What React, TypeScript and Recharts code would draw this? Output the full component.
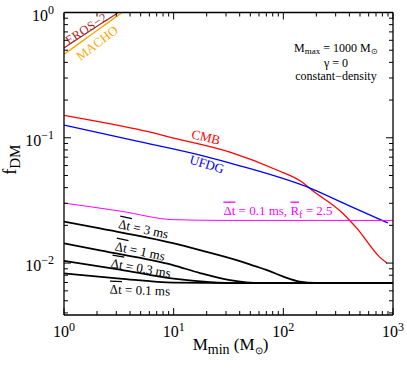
import { LineChart, Line, XAxis, YAxis, ReferenceDot } from "recharts";

const FONT = '"Liberation Serif", "Times New Roman", Times, serif';
const serif = { fontFamily: FONT };

// M_min (solar masses) and f_DM
const cmbM = [1, 2.13, 4.63, 10, 32.6, 87.4, 148, 182, 346, 469, 760, 880];
const cmbF = [0.151, 0.134, 0.117, 0.0995, 0.0769, 0.0553, 0.0443, 0.0383, 0.0251, 0.0189, 0.0111, 0.01];

const ufdgM = [1, 4.63, 17.4, 40.2, 175, 405, 898];
const ufdgF = [0.1264, 0.0942, 0.0728, 0.0598, 0.0397, 0.0285, 0.0209];

const rfM = [1, 3.24, 10, 30, 1000];
const rfF = [0.0301, 0.026, 0.0222, 0.0219, 0.0219];

const dt3M = [1, 2.13, 9.85, 17.4, 40.2, 55, 71, 100, 141, 200, 1000];
const dt3F = [0.0214, 0.0189, 0.01444, 0.0127, 0.01037, 0.00946, 0.00879, 0.0078, 0.00712, 0.00695, 0.00692];

const dt1M = [1, 2.13, 9.85, 17.4, 32.6, 61, 1000];
const dt1F = [0.01436, 0.0126, 0.00964, 0.00832, 0.00731, 0.00692, 0.00692];

const dt03M = [1, 3.24, 10, 21.4, 40, 1000];
const dt03F = [0.0104, 0.00887, 0.0075, 0.00705, 0.00692, 0.00692];

const dt01M = [1, 3.24, 10, 40, 1000];
const dt01F = [0.00827, 0.00752, 0.00699, 0.00692, 0.00692];

const erosM = [1, 2, 3.11, 3.3];
const erosF = [0.521, 0.776, 1.0, 1.04];

const machoM = [1, 1.5, 2, 3.38, 3.6];
const machoF = [0.464, 0.599, 0.718, 1.0, 1.04];

const xTicks = [1, 2, 3, 4, 5, 6, 7, 8, 9, 10, 20, 30, 40, 50, 60, 70, 80, 90, 100, 200, 300, 400, 500, 600, 700, 800, 900, 1000];
const yTicks = [0.004, 0.005, 0.006, 0.007, 0.008, 0.009, 0.01, 0.02, 0.03, 0.04, 0.05, 0.06, 0.07, 0.08, 0.09, 0.1, 0.2, 0.3, 0.4, 0.5, 0.6, 0.7, 0.8, 0.9, 1];

const pts = (xs: number[], ys: number[]) => xs.map((x, i) => ({ x, y: ys[i] }));

const isMajor = (v: number) => Math.abs(Math.log10(v) - Math.round(Math.log10(v))) < 1e-6;
const expLabel = (v: number) => {
  const e = Math.round(Math.log10(v));
  return e < 0 ? "\u2212" + -e : String(e);
};

function TickBottom({ x, y, payload }: any) {
  const major = isMajor(payload.value);
  return (
    <g>
      <line x1={x} x2={x} y1={y} y2={y - (major ? 7 : 4)} stroke="#000" />
      {major && (
        <text x={x} y={y + 22} textAnchor="middle" style={serif} fontSize={16} fill="#000">
          10<tspan dy={-6} fontSize={12}>{expLabel(payload.value)}</tspan>
        </text>
      )}
    </g>
  );
}

function TickTop({ x, y, payload }: any) {
  const major = isMajor(payload.value);
  return <line x1={x} x2={x} y1={y} y2={y + (major ? 7 : 4)} stroke="#000" />;
}

function TickLeft({ x, y, payload }: any) {
  const major = isMajor(payload.value);
  return (
    <g>
      <line x1={x} x2={x + (major ? 7 : 4)} y1={y} y2={y} stroke="#000" />
      {major && (
        <text x={x - 10} y={y + 8} textAnchor="end" style={serif} fontSize={16} fill="#000">
          10<tspan dy={-7} fontSize={12}>{expLabel(payload.value)}</tspan>
        </text>
      )}
    </g>
  );
}

function TickRight({ x, y, payload }: any) {
  const major = isMajor(payload.value);
  return <line x1={x} x2={x - (major ? 7 : 4)} y1={y} y2={y} stroke="#000" />;
}

type CurveLabel = { x: number; y: number; angle: number; color: string; kind: string; text: string; size?: number; spacing?: number };

const curveLabels: CurveLabel[] = [
  { x: 1.587, y: 0.745, angle: -33, color: "#a52a2a", kind: "plain", text: "EROS\u22122", size: 12.5, spacing: 0.3 },
  { x: 2.0, y: 0.571, angle: -37, color: "#ffa500", kind: "plain", text: "MACHO" },
  { x: 19.7, y: 0.1014, angle: 14, color: "#ff0000", kind: "plain", text: "CMB" },
  { x: 20.1, y: 0.0617, angle: 17, color: "#0000ff", kind: "plain", text: "UFDG" },
  { x: 89.3, y: 0.0265, angle: 0, color: "#ff00ff", kind: "rf", text: "0.1" },
  { x: 5.3, y: 0.0187, angle: 12, color: "#000", kind: "dt", text: "3" },
  { x: 4.93, y: 0.01247, angle: 12, color: "#000", kind: "dt", text: "1" },
  { x: 5.03, y: 0.00912, angle: 10, color: "#000", kind: "dt", text: "0.3" },
  { x: 4.93, y: 0.00609, angle: 2, color: "#000", kind: "dt", text: "0.1" },
];

const OL = { textDecoration: "overline" } as const;

function labelShape(l: CurveLabel) {
  return (p: any) => {
    const { cx, cy } = p;
    let body: any = l.text;
    if (l.kind === "dt") {
      body = (
        <>
          <tspan style={OL}>{"\u0394t"}</tspan>
          {" = " + l.text + " ms"}
        </>
      );
    } else if (l.kind === "rf") {
      body = (
        <>
          <tspan style={OL}>{"\u0394t"}</tspan>
          {" = " + l.text + " ms, "}
          <tspan style={OL}>R</tspan>
          <tspan dy={3} fontSize={10}>f</tspan>
          <tspan dy={-3}>{" = 2.5"}</tspan>
        </>
      );
    }
    return (
      <text
        x={cx}
        y={cy}
        dy={4.5}
        textAnchor="middle"
        style={{ ...serif, letterSpacing: l.spacing ?? 0 }}
        fontSize={l.size ?? 13}
        fill={l.color}
        transform={`rotate(${l.angle}, ${cx}, ${cy})`}
      >
        {body}
      </text>
    );
  };
}

function InfoBox({ cx, cy }: any) {
  return (
    <g style={serif} fontSize={12} fill="#000">
      <text x={cx} y={cy} textAnchor="middle">
        M<tspan dy={1.5} fontSize={9}>max</tspan>
        <tspan dy={-1.5}>{" = 1000 M"}</tspan>
        <tspan dy={1.5} fontSize={8}>{"\u2299"}</tspan>
      </text>
      <text x={cx} y={cy + 14.5} textAnchor="middle">{"\u03b3 = 0"}</text>
      <text x={cx} y={cy + 28} textAnchor="middle">{"constant\u2212density"}</text>
    </g>
  );
}

function XTitle({ viewBox }: any) {
  const cx = viewBox.x + viewBox.width / 2 + 2;
  return (
    <text x={cx} y={viewBox.y + 35} textAnchor="middle" style={serif} fontSize={17} fill="#000">
      M<tspan dy={4} fontSize={14}>min</tspan>
      <tspan dy={-4}>{" (M"}</tspan>
      <tspan dy={4} fontSize={10}>{"\u2299"}</tspan>
      <tspan dy={-4}>)</tspan>
    </text>
  );
}

function YTitle({ viewBox }: any) {
  const cy = viewBox.y + viewBox.height / 2 - 4;
  const x = 16;
  return (
    <text x={x} y={cy} textAnchor="middle" style={serif} fontSize={18} fill="#000" transform={`rotate(-90, ${x}, ${cy})`}>
      f<tspan dy={4} fontSize={15}>DM</tspan>
    </text>
  );
}

const series = [
  { key: "eros", data: pts(erosM, erosF), color: "#a52a2a", w: 1.2 },
  { key: "macho", data: pts(machoM, machoF), color: "#ffa500", w: 1.4 },
  { key: "cmb", data: pts(cmbM, cmbF), color: "#ff0000", w: 1.3 },
  { key: "ufdg", data: pts(ufdgM, ufdgF), color: "#0000ff", w: 1.3 },
  { key: "rf", data: pts(rfM, rfF), color: "#ff00ff", w: 1 },
  { key: "dt3", data: pts(dt3M, dt3F), color: "#000", w: 1.8 },
  { key: "dt1", data: pts(dt1M, dt1F), color: "#000", w: 1.8 },
  { key: "dt03", data: pts(dt03M, dt03F), color: "#000", w: 1.8 },
  { key: "dt01", data: pts(dt01M, dt01F), color: "#000", w: 1.8 },
];

const axisLine = { stroke: "#000", strokeWidth: 1.3 };

export default function App() {
  return (
    <div style={{ position: "absolute", left: 0, top: 0, background: "#fff" }}>
      <LineChart width={407} height={370} margin={{ top: 11.5, right: 13, bottom: 54, left: 63 }}>
        <XAxis
          dataKey="x"
          type="number"
          scale="log"
          domain={[1, 1000]}
          allowDataOverflow
          ticks={xTicks}
          interval={0}
          height={1}
          tickSize={0}
          tickMargin={0}
          tickLine={false}
          tick={<TickBottom />}
          axisLine={axisLine}
          label={<XTitle />}
        />
        <XAxis
          xAxisId="top"
          orientation="top"
          dataKey="x"
          type="number"
          scale="log"
          domain={[1, 1000]}
          allowDataOverflow
          ticks={xTicks}
          interval={0}
          height={1}
          tickSize={0}
          tickMargin={0}
          tickLine={false}
          tick={<TickTop />}
          axisLine={axisLine}
        />
        <YAxis
          type="number"
          scale="log"
          domain={[0.00385, 1]}
          allowDataOverflow
          ticks={yTicks}
          interval={0}
          width={1}
          tickSize={0}
          tickMargin={0}
          tickLine={false}
          tick={<TickLeft />}
          axisLine={axisLine}
          label={<YTitle />}
        />
        <YAxis
          yAxisId="right"
          orientation="right"
          type="number"
          scale="log"
          domain={[0.00385, 1]}
          allowDataOverflow
          ticks={yTicks}
          interval={0}
          width={1}
          tickSize={0}
          tickMargin={0}
          tickLine={false}
          tick={<TickRight />}
          axisLine={axisLine}
        />
        {series.map((s) => (
          <Line
            key={s.key}
            data={s.data}
            dataKey="y"
            type="monotone"
            stroke={s.color}
            strokeWidth={s.w}
            dot={false}
            isAnimationActive={false}
          />
        ))}
        {curveLabels.map((l, i) => (
          <ReferenceDot key={i} x={l.x} y={l.y} r={0} shape={labelShape(l)} />
        ))}
        <ReferenceDot x={301.7} y={0.48} r={0} shape={<InfoBox />} />
      </LineChart>
    </div>
  );
}
